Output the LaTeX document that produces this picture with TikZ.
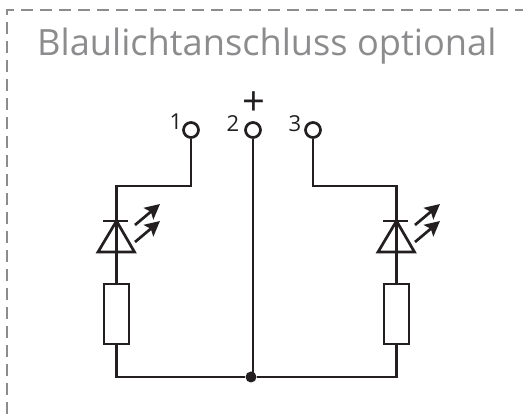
\documentclass[tikz,border=0pt]{standalone}
\usepackage{fontspec}
\setmainfont{Open Sans}
\usetikzlibrary{arrows.meta}
\definecolor{ink}{HTML}{231F20}
\definecolor{frame}{HTML}{8C8C8E}
\tikzset{
  x=1pt,y=-1pt,
  wire/.style={draw=ink,line width=2.7pt,line join=miter},
  term/.style={circle,draw=ink,line width=2.7pt,minimum size=15pt,inner sep=0pt,fill=white},
  res/.style={rectangle,draw=ink,line width=2.7pt,minimum width=25pt,minimum height=60pt,inner sep=0pt},
  pinnum/.style={font=\fontsize{22}{22}\selectfont,text=ink,inner sep=0pt},
  light/.style={draw=ink,line width=2.7pt,-{Stealth[length=15pt,width=15pt,inset=3pt]}},
  junction/.style={circle,fill=ink,minimum size=11pt,inner sep=0pt}
}
\begin{document}
\begin{tikzpicture}
\useasboundingbox (0,0) rectangle (523,414);
\draw[frame,line width=2.7pt,dash pattern=on 12pt off 7pt] (7,414) -- (7,10) -- (523,10);
\node[anchor=base west,inner sep=0pt,text=frame,font=\fontsize{36.2}{36}\selectfont] (title) at (37,55.5) {Blaulichtanschluss optional};
% terminals
\node[term] (t1) at (191,130) {};
\node[term] (t2) at (253,130) {};
\node[term] (t3) at (313,130) {};
\node[pinnum] (n1) at (176,122) {1};
\node[pinnum] (n2) at (233,124) {2};
\node[pinnum] (n3) at (295,124) {3};
\node[inner sep=0pt,text=ink,font=\fontsize{40}{40}\selectfont] (plus) at (254,104) {+};
% resistors
\node[res] (r1) at (116.5,314) {};
\node[res] (r2) at (396.5,314) {};
\node[junction] (j) at (251,377) {};
\coordinate (bl) at (116.5,377);
\coordinate (br) at (396.5,377);
\coordinate (c1) at (116.5,186);
\coordinate (c1b) at (191,186);
\coordinate (c2) at (396.5,186);
\coordinate (c2b) at (313,186);
% wires
\draw[wire] (t1.south) -- (c1b) -- (c1) -- (r1.north);
\draw[wire] (t3.south) -- (c2b) -- (c2) -- (r2.north);
\draw[wire] (t2.south) -- (253,377);
\draw[wire] (r1.south) -- (bl) -- (j) -- (br) -- (r2.south);
% LEDs
\foreach \dx in {0,280}{
  \begin{scope}[xshift=\dx pt]
    \draw[wire] (98,252) -- (116.5,221) -- (134.5,252) -- cycle;
    \draw[wire] (103,221) -- (128,221);
    \draw[light] (135,225) -- (160,204);
    \draw[light] (135,242) -- (160,221);
  \end{scope}
}
\end{tikzpicture}
\end{document}
